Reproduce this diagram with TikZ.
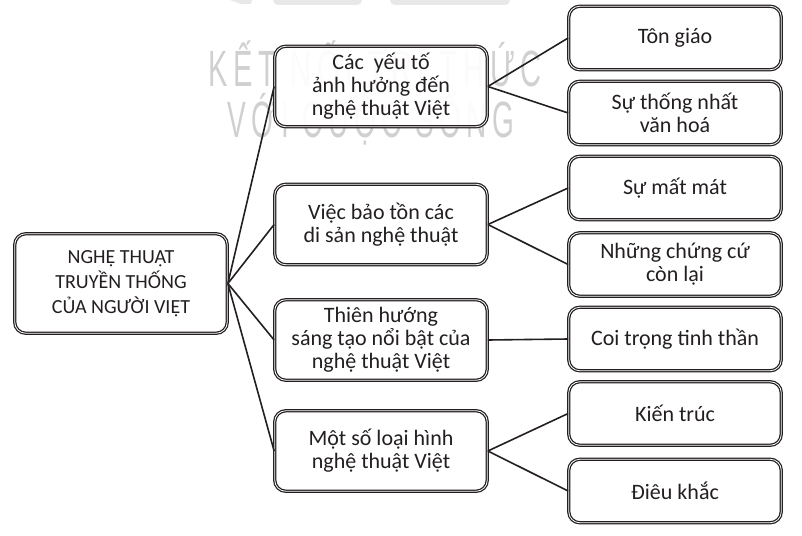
\documentclass[tikz,border=0pt]{standalone}
\usepackage{fontspec}
\setmainfont{Carlito}
\newfontfamily\wmfont[LetterSpace=20]{Liberation Sans}
\usepackage{graphicx}
\definecolor{ink}{HTML}{231F20}
\definecolor{wmgray}{HTML}{D0D0D0}
\definecolor{logogray}{HTML}{E8E8E8}
\begin{document}
\begin{tikzpicture}[x=1pt,y=-1pt,
  box/.style={draw=ink, line width=1.25pt, double=white, double distance=0.8pt,
    rounded corners=11pt, fill=white, fill opacity=0.93, text opacity=1,
    text=ink, align=center, minimum width=212.5pt, inner sep=1pt},
  rootbox/.style={box, minimum height=99.5pt, font=\fontsize{20}{25}\selectfont},
  midbox/.style={box, minimum height=80.5pt, font=\fontsize{22}{23}\selectfont},
  leaf/.style={box, minimum height=63.5pt, font=\fontsize{22}{23}\selectfont},
  conn/.style={draw=ink, line width=1.6pt},
  wm/.style={text=wmgray, font=\wmfont\fontsize{51}{51}\selectfont, inner sep=0pt},
  logo/.style={fill=logogray}
]
\useasboundingbox (0,0) rectangle (802,535);
\begin{scope}
  \clip (0,0) rectangle (802,535);
  \fill[logo] (230,0) -- (252,0) -- (251,4) -- (241,4) -- cycle;
  \fill[logo, rounded corners=5pt] (273,-12) rectangle (362,5);
  \fill[logo, rounded corners=5pt] (390,-12) -- (390,5) -- (510,5) -- (510,-12) -- cycle;
\end{scope}
\node[wm, anchor=base west] (wm1) at (208,86) {\scalebox{0.57}[1]{KẾT NỐI TRI THỨC}};
\node[wm, anchor=base west] (wm2) at (227,137) {\scalebox{0.55}[1]{VỚI CUỘC SỐNG}};

\node[rootbox] (root) at (121,283.5) {NGHỆ THUẬT\\TRUYỀN THỐNG\\CỦA NGƯỜI VIỆT};

\node[midbox] (m1) at (381,86.5) {Các~ yếu tố\\ảnh hưởng đến\\nghệ thuật Việt};
\node[midbox] (m2) at (381,224.5) {Việc bảo tồn các\\di sản nghệ thuật};
\node[midbox] (m3) at (381,340) {Thiên hướng\\sáng tạo nổi bật của\\nghệ thuật Việt};
\node[midbox] (m4) at (381,451) {Một số loại hình\\nghệ thuật Việt};

\node[leaf] (r1) at (675,38) {Tôn giáo};
\node[leaf] (r2) at (675,113) {Sự thống nhất\\văn hoá};
\node[leaf] (r3) at (675,188) {Sự mất mát};
\node[leaf] (r4) at (675,264.5) {Những chứng cứ\\còn lại};
\node[leaf] (r5) at (675,339) {Coi trọng tinh thần};
\node[leaf] (r6) at (675,413.5) {Kiến trúc};
\node[leaf] (r7) at (675,491) {Điêu khắc};

\foreach \m in {m1,m2,m3,m4} \draw[conn] (root.east) -- (\m.west);
\draw[conn] (m1.east) -- (r1.west);
\draw[conn] (m1.east) -- (r2.west);
\draw[conn] (m2.east) -- (r3.west);
\draw[conn] (m2.east) -- (r4.west);
\draw[conn] (m3.east) -- (r5.west);
\draw[conn] (m4.east) -- (r6.west);
\draw[conn] (m4.east) -- (r7.west);
\end{tikzpicture}
\end{document}
